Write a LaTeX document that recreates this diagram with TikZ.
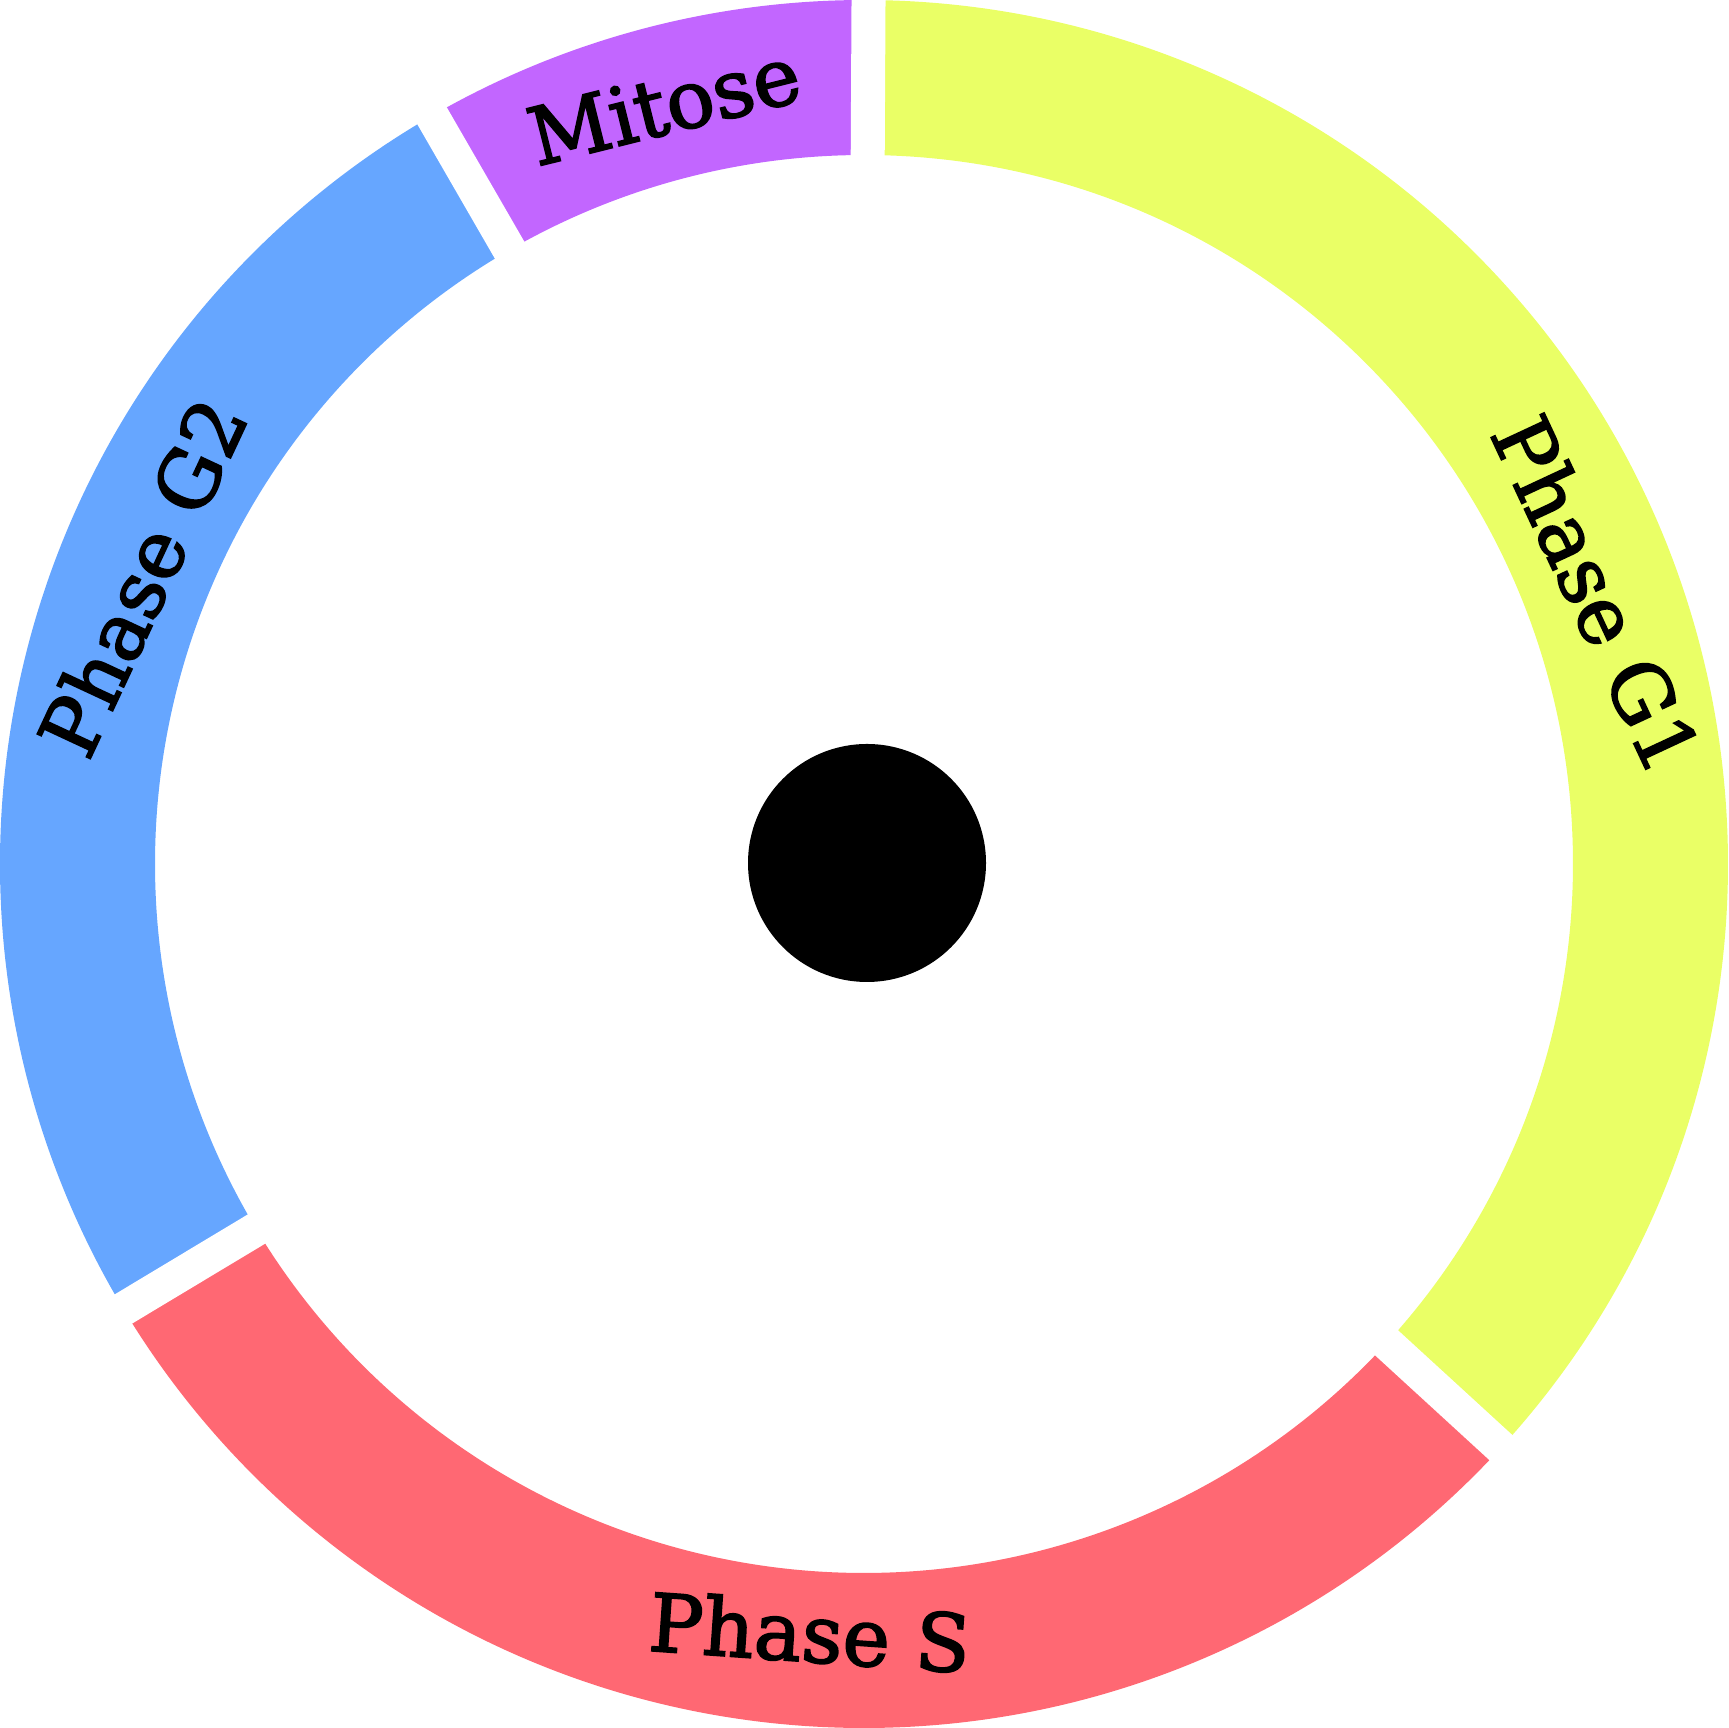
\documentclass[tikz,border=0pt]{standalone}
\usepackage{fontspec}
\newfontfamily\lblfont{DejaVu Serif}[FakeBold=2.2]
\definecolor{cG1}{HTML}{EAFF66}
\definecolor{cS}{HTML}{FF6873}
\definecolor{cG2}{HTML}{66A6FF}
\definecolor{cM}{HTML}{C266FF}
\tikzset{
  lbl/.style={inner sep=0pt, font=\lblfont\fontsize{80}{96}\selectfont, text=black},
  gapline/.style={white, line width=34pt}
}
\newcommand{\ringseg}[3]{%
  \fill[#3] (#1:864pt) arc[start angle=#1, end angle=#2, radius=864pt]
    -- (#2:709pt) arc[start angle=#2, end angle=#1, radius=709pt] -- cycle;}
\begin{document}
\begin{tikzpicture}[x=1pt,y=1pt]
\useasboundingbox (0,0) rectangle (1729,1728);
\begin{scope}[shift={(864,864)}]
  \ringseg{89.7}{120}{cM}
  \ringseg{120}{211}{cG2}
  \ringseg{211}{317.5}{cS}
  \ringseg{317.5}{449.7}{cG1}
  \foreach \a in {89.7,120,211,317.5}{
    \draw[gapline] (\a:690pt) -- (\a:890pt);
  }
\end{scope}
\fill[black] (867,865) circle[radius=119pt];
\node[lbl, rotate=14] (mitose) at (664,1623) {Mitose};
\node[lbl, rotate=-65] (g1) at (1597,1134) {Phase G1};
\node[lbl, rotate=65] (g2) at (142,1151) {Phase G2};
\node[lbl, rotate=-4] (s) at (810,96) {Phase S};
\end{tikzpicture}
\end{document}
